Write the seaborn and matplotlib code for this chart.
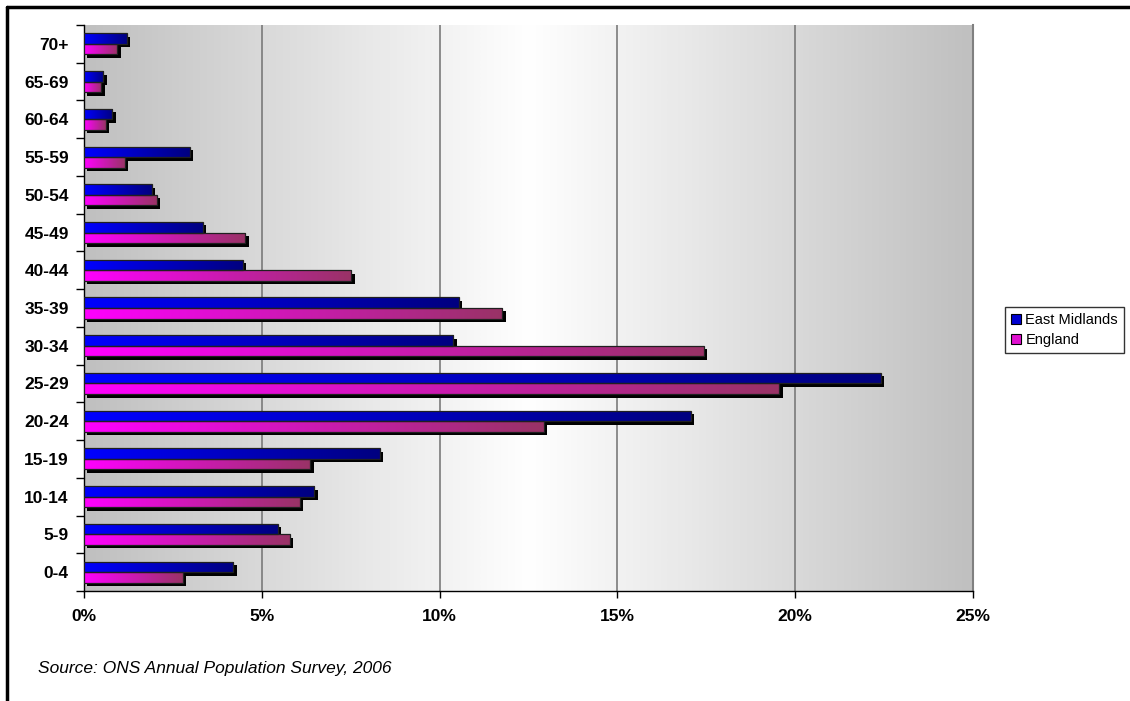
import matplotlib
matplotlib.use("Agg")
import matplotlib.pyplot as plt
import matplotlib.patheffects as pe
from matplotlib.colors import LinearSegmentedColormap
from matplotlib.patches import Patch, Rectangle
from matplotlib.lines import Line2D
import numpy as np
import pandas as pd
import seaborn as sns

# data (% of population)
age_groups = ["0-4", "5-9", "10-14", "15-19", "20-24", "25-29", "30-34", "35-39",
              "40-44", "45-49", "50-54", "55-59", "60-64", "65-69", "70+"]
east_midlands = [4.20, 5.45, 6.48, 8.32, 17.06, 22.40, 10.38, 10.54,
                 4.47, 3.34, 1.91, 2.98, 0.79, 0.54, 1.20]
england = [2.77, 5.79, 6.07, 6.36, 12.93, 19.55, 17.43, 11.76,
           7.51, 4.53, 2.04, 1.14, 0.61, 0.48, 0.94]
series_names = ["East Midlands", "England"]
x_ticks = [0, 5, 10, 15, 20, 25]
source_note = "Source: ONS Annual Population Survey, 2006"

df = pd.DataFrame({
    "age": age_groups * 2,
    "share": east_midlands + england,
    "area": [series_names[0]] * len(age_groups) + [series_names[1]] * len(age_groups),
})

sns.set_style("white")
plt.rcParams["font.family"] = ["Liberation Sans", "DejaVu Sans"]
plt.rcParams["text.color"] = "black"
plt.rcParams["xtick.color"] = "black"
plt.rcParams["ytick.color"] = "black"

fig = plt.figure(figsize=(11.3, 7.01), dpi=100)
ax = fig.add_axes([84 / 1130, 1 - 591 / 701, (973 - 84) / 1130, (591 - 25) / 701])

sns.barplot(data=df, y="age", x="share", hue="area", order=age_groups[::-1],
            hue_order=series_names, palette=["#0000ff", "#ff00ff"], orient="h",
            width=0.56, errorbar=None, legend=False, ax=ax, zorder=3)

# gradient fill + drop shadow for each bar
grad = np.linspace(0, 1, 256).reshape(1, -1)
bar_cmaps = [LinearSegmentedColormap.from_list("em", ["#0000ff", "#000080"]),
             LinearSegmentedColormap.from_list("en", ["#ff00ff", "#993366"])]
for container, cmap in zip(ax.containers, bar_cmaps):
    for bar in container:
        x0, y0, w, h = bar.get_x(), bar.get_y(), bar.get_width(), bar.get_height()
        bar.set_path_effects([pe.SimplePatchShadow(offset=(2.5, -2.5), shadow_rgbFace="black", alpha=1),
                              pe.Normal()])
        bar.set_edgecolor("none")
        im = ax.imshow(grad, cmap=cmap, extent=[x0, x0 + w, y0 + h, y0], aspect="auto",
                       interpolation="bilinear", zorder=3.5)
        im.set_clip_path(bar)
        ax.add_patch(Rectangle((x0, y0), w, h, fill=False, ec="#202020", lw=0.9, zorder=4))

# background gradient grey -> white -> grey
bg_cmap = LinearSegmentedColormap.from_list("bg", ["#c0c0c0", "#ffffff", "#c0c0c0"])
ax.imshow(grad, cmap=bg_cmap, extent=[0, 1, 0, 1], transform=ax.transAxes,
          aspect="auto", interpolation="bilinear", zorder=0)

ax.set_xlim(0, 25)
ax.set_ylim(len(age_groups) - 0.5, -0.5)
ax.set_xlabel("")
ax.set_ylabel("")

ax.set_xticks(x_ticks)
ax.set_xticklabels([f"{t}%" for t in x_ticks], fontweight="bold", fontsize=12.5)
ax.tick_params(axis="x", direction="out", length=5, width=1, color="black", labelcolor="black",
               pad=8, bottom=True)
ax.set_yticks(range(len(age_groups)))
ax.set_yticklabels(age_groups[::-1], fontweight="bold", fontsize=12.5)
ax.tick_params(axis="y", length=0, pad=11, labelcolor="black")
ax.set_yticks(np.arange(-0.5, len(age_groups), 1), minor=True)
ax.tick_params(axis="y", which="minor", direction="out", length=6, width=1, color="black", left=True)

ax.xaxis.grid(True, color="#7a7a7a", lw=1.2, zorder=1)
ax.yaxis.grid(False)
ax.set_axisbelow(True)
for side in ["left", "bottom"]:
    ax.spines[side].set_visible(True)
    ax.spines[side].set_color("black")
    ax.spines[side].set_linewidth(1)
ax.spines["right"].set_visible(True)
ax.spines["right"].set_color("#808080")
ax.spines["right"].set_linewidth(1.5)
ax.spines["top"].set_visible(False)

handles = [Patch(facecolor="#0000d0", edgecolor="black", lw=0.8),
           Patch(facecolor="#e010d0", edgecolor="black", lw=0.8)]
leg = fig.legend(handles, series_names, loc="upper left", bbox_to_anchor=(1005 / 1130, 1 - 307 / 701),
                 fontsize=10.5, frameon=True, fancybox=False, edgecolor="black",
                 handlelength=0.7, handleheight=0.7, handletextpad=0.3, labelspacing=0.45,
                 borderpad=0.4, borderaxespad=0)
leg.get_frame().set_linewidth(1)

fig.text(38 / 1130, 1 - 668 / 701, source_note, fontsize=12.5, style="italic", va="center")

# chart frame lines (top and left)
fig.add_artist(Line2D([7 / 1130, 1], [1 - 7 / 701, 1 - 7 / 701], color="black", lw=2.5,
                      transform=fig.transFigure))
fig.add_artist(Line2D([7 / 1130, 7 / 1130], [0, 1 - 7 / 701], color="black", lw=2.5,
                      transform=fig.transFigure))

fig.savefig("out.png", dpi=100)
